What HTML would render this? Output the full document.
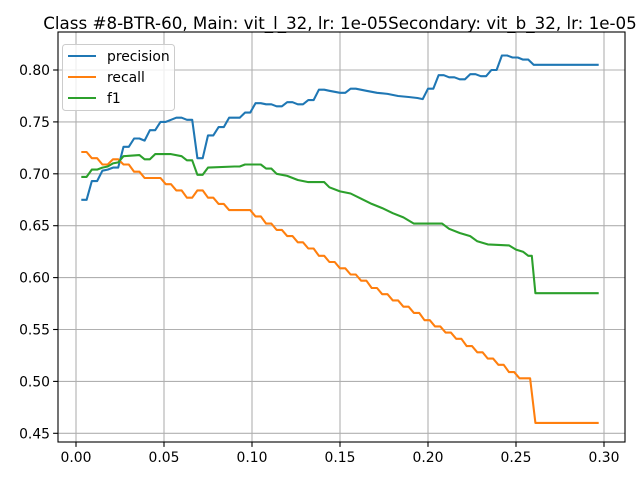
<!DOCTYPE html>
<html><head><meta charset="utf-8"><style>
html,body{margin:0;padding:0;background:#fff;}
svg text{font-family:"DejaVu Sans","Liberation Sans",sans-serif;}
</style></head><body>
<svg id="chart" width="640" height="480" xmlns="http://www.w3.org/2000/svg">
<rect width="640" height="480" fill="#fff"/>
<text x="340" y="29" font-size="16.7" text-anchor="middle" fill="#000">Class #8-BTR-60, Main: vit_l_32, lr: 1e-05Secondary: vit_b_32, lr: 1e-05</text>
<g id="grid"></g><g id="series"></g><g id="axes"></g>
</svg>
<script>
const xTicks=[0.00,0.05,0.10,0.15,0.20,0.25,0.30];
const yTicks=[0.45,0.50,0.55,0.60,0.65,0.70,0.75,0.80];
const seriesNames=["precision","recall","f1"];
const precisionX=[0.003,0.006,0.009,0.012,0.015,0.018,0.021,0.024,0.027,0.030,0.033,0.036,0.039,0.042,0.045,0.048,0.051,0.054,0.057,0.060,0.063,0.066,0.069,0.072,0.075,0.078,0.081,0.084,0.087,0.093,0.096,0.099,0.102,0.105,0.108,0.111,0.114,0.117,0.120,0.123,0.126,0.129,0.132,0.135,0.138,0.141,0.144,0.147,0.150,0.153,0.156,0.159,0.165,0.171,0.177,0.183,0.189,0.194,0.197,0.200,0.203,0.206,0.209,0.212,0.215,0.218,0.221,0.224,0.227,0.230,0.233,0.236,0.239,0.242,0.245,0.248,0.251,0.254,0.257,0.260,0.297];
const precisionY=[0.675,0.675,0.693,0.693,0.703,0.704,0.706,0.706,0.726,0.726,0.734,0.734,0.732,0.742,0.742,0.750,0.750,0.752,0.754,0.754,0.752,0.752,0.715,0.715,0.737,0.737,0.745,0.745,0.754,0.754,0.759,0.759,0.768,0.768,0.767,0.767,0.765,0.765,0.769,0.769,0.767,0.767,0.771,0.771,0.781,0.781,0.780,0.779,0.778,0.778,0.782,0.782,0.780,0.778,0.777,0.775,0.774,0.773,0.772,0.782,0.782,0.795,0.795,0.793,0.793,0.791,0.791,0.796,0.796,0.794,0.794,0.800,0.800,0.814,0.814,0.812,0.812,0.810,0.810,0.805,0.805];
const recallX=[0.003,0.006,0.009,0.012,0.015,0.018,0.021,0.024,0.027,0.030,0.033,0.036,0.039,0.048,0.051,0.054,0.057,0.060,0.063,0.066,0.069,0.072,0.075,0.078,0.081,0.084,0.087,0.099,
0.102,0.105,0.108,0.111,0.114,0.117,0.120,0.123,0.126,0.129,0.132,0.135,0.138,0.141,0.144,0.147,0.150,0.153,0.156,0.159,0.162,0.165,0.168,0.171,0.174,0.177,0.180,0.183,0.186,0.189,0.192,0.195,0.198,0.201,0.204,0.207,0.210,0.213,0.216,0.219,0.222,0.225,0.228,0.231,0.234,0.237,0.240,0.243,0.246,0.249,0.252,0.258,
0.261,0.297];
const recallY=[0.721,0.721,0.715,0.715,0.709,0.709,0.714,0.714,0.709,0.709,0.702,0.702,0.696,0.696,0.690,0.690,0.684,0.684,0.677,0.677,0.684,0.684,0.677,0.677,0.671,0.671,0.665,0.665,
0.659,0.659,0.652,0.652,0.646,0.646,0.640,0.640,0.634,0.634,0.628,0.628,0.621,0.621,0.615,0.615,0.609,0.609,0.603,0.603,0.597,0.597,0.590,0.590,0.584,0.584,0.578,0.578,0.572,0.572,0.566,0.566,0.559,0.559,0.553,0.553,0.547,0.547,0.541,0.541,0.534,0.534,0.528,0.528,0.522,0.522,0.516,0.516,0.509,0.509,0.503,0.503,
0.460,0.460];
const f1X=[0.003,0.006,0.009,0.012,0.015,0.018,0.021,0.024,0.027,0.036,0.039,0.042,0.045,0.054,0.060,0.063,0.066,0.069,0.072,0.075,0.090,0.093,0.096,0.105,0.108,0.111,0.114,0.120,0.126,0.132,0.141,0.144,0.150,0.156,0.162,0.168,0.174,0.180,0.186,0.192,0.208,0.212,0.218,0.224,0.228,0.234,0.246,0.250,0.254,0.257,0.259,0.261,0.297];
const f1Y=[0.697,0.697,0.704,0.704,0.706,0.707,0.710,0.711,0.717,0.718,0.714,0.714,0.719,0.719,0.717,0.713,0.713,0.699,0.699,0.706,0.707,0.707,0.709,0.709,0.705,0.705,0.700,0.698,0.694,0.692,0.692,0.687,0.683,0.681,0.676,0.671,0.667,0.662,0.658,0.652,0.652,0.647,0.643,0.640,0.635,0.632,0.631,0.627,0.625,0.621,0.621,0.585,0.585];
const colors=["#1f77b4","#ff7f0e","#2ca02c"];
const L=58,R=625,T=32,B=442;
const sx=v=>76+(v-0)*1760;
const sy=v=>70+(0.80-v)*1038;
const NS="http://www.w3.org/2000/svg";
function mk(tag,attrs,parent){const e=document.createElementNS(NS,tag);for(const k in attrs)e.setAttribute(k,attrs[k]);parent.appendChild(e);return e;}
const grid=document.getElementById('grid'),axes=document.getElementById('axes'),ser=document.getElementById('series');
xTicks.forEach(t=>{const x=sx(t);
 const g=mk('line',{x1:x,x2:x,y1:T,y2:B,stroke:'#b0b0b0','stroke-width':1.1},grid);
 
 
 mk('line',{x1:x,x2:x,y1:B,y2:B+4.9,stroke:'#000','stroke-width':1.1},axes);
 const tx=mk('text',{x:x,y:B+20,'font-size':13.9,'text-anchor':'middle',fill:'#000'},axes);
 tx.textContent=t.toFixed(2);
 
 
});
yTicks.forEach(t=>{const y=sy(t);
 const g=mk('line',{x1:L,x2:R,y1:y,y2:y,stroke:'#b0b0b0','stroke-width':1.1},grid);
 
 
 mk('line',{x1:L-4.9,x2:L,y1:y,y2:y,stroke:'#000','stroke-width':1.1},axes);
 const tx=mk('text',{x:L-8,y:y+5,'font-size':13.9,'text-anchor':'end',fill:'#000'},axes);
 tx.textContent=t.toFixed(2);
 
 
});
const fr=mk('rect',{x:L,y:T,width:R-L,height:B-T,fill:'none',stroke:'#000','stroke-width':1.1},axes);


const data=[[precisionX,precisionY],[recallX,recallY],[f1X,f1Y]];
data.forEach((d,i)=>{
 const pts=d[0].map((x,j)=>sx(x).toFixed(1)+','+sy(d[1][j]).toFixed(1)).join(' ');
 const p=mk('polyline',{points:pts,fill:'none',stroke:colors[i],'stroke-width':2.08,'stroke-linejoin':'round'},ser);
 
 
});
const lg=mk('g',{},axes);


mk('rect',{x:62.5,y:44.5,width:112,height:66,rx:3,fill:'#fff','fill-opacity':0.8,stroke:'#ccc','stroke-width':1},lg);
seriesNames.forEach((n,i)=>{const y=56+i*21;
 mk('line',{x1:68,x2:96,y1:y,y2:y,stroke:colors[i],'stroke-width':2.08},lg);
 const t=mk('text',{x:107,y:y+5,'font-size':13.9,fill:'#000'},lg);
 t.textContent=n;
 
 
});
</script>
</body></html>
